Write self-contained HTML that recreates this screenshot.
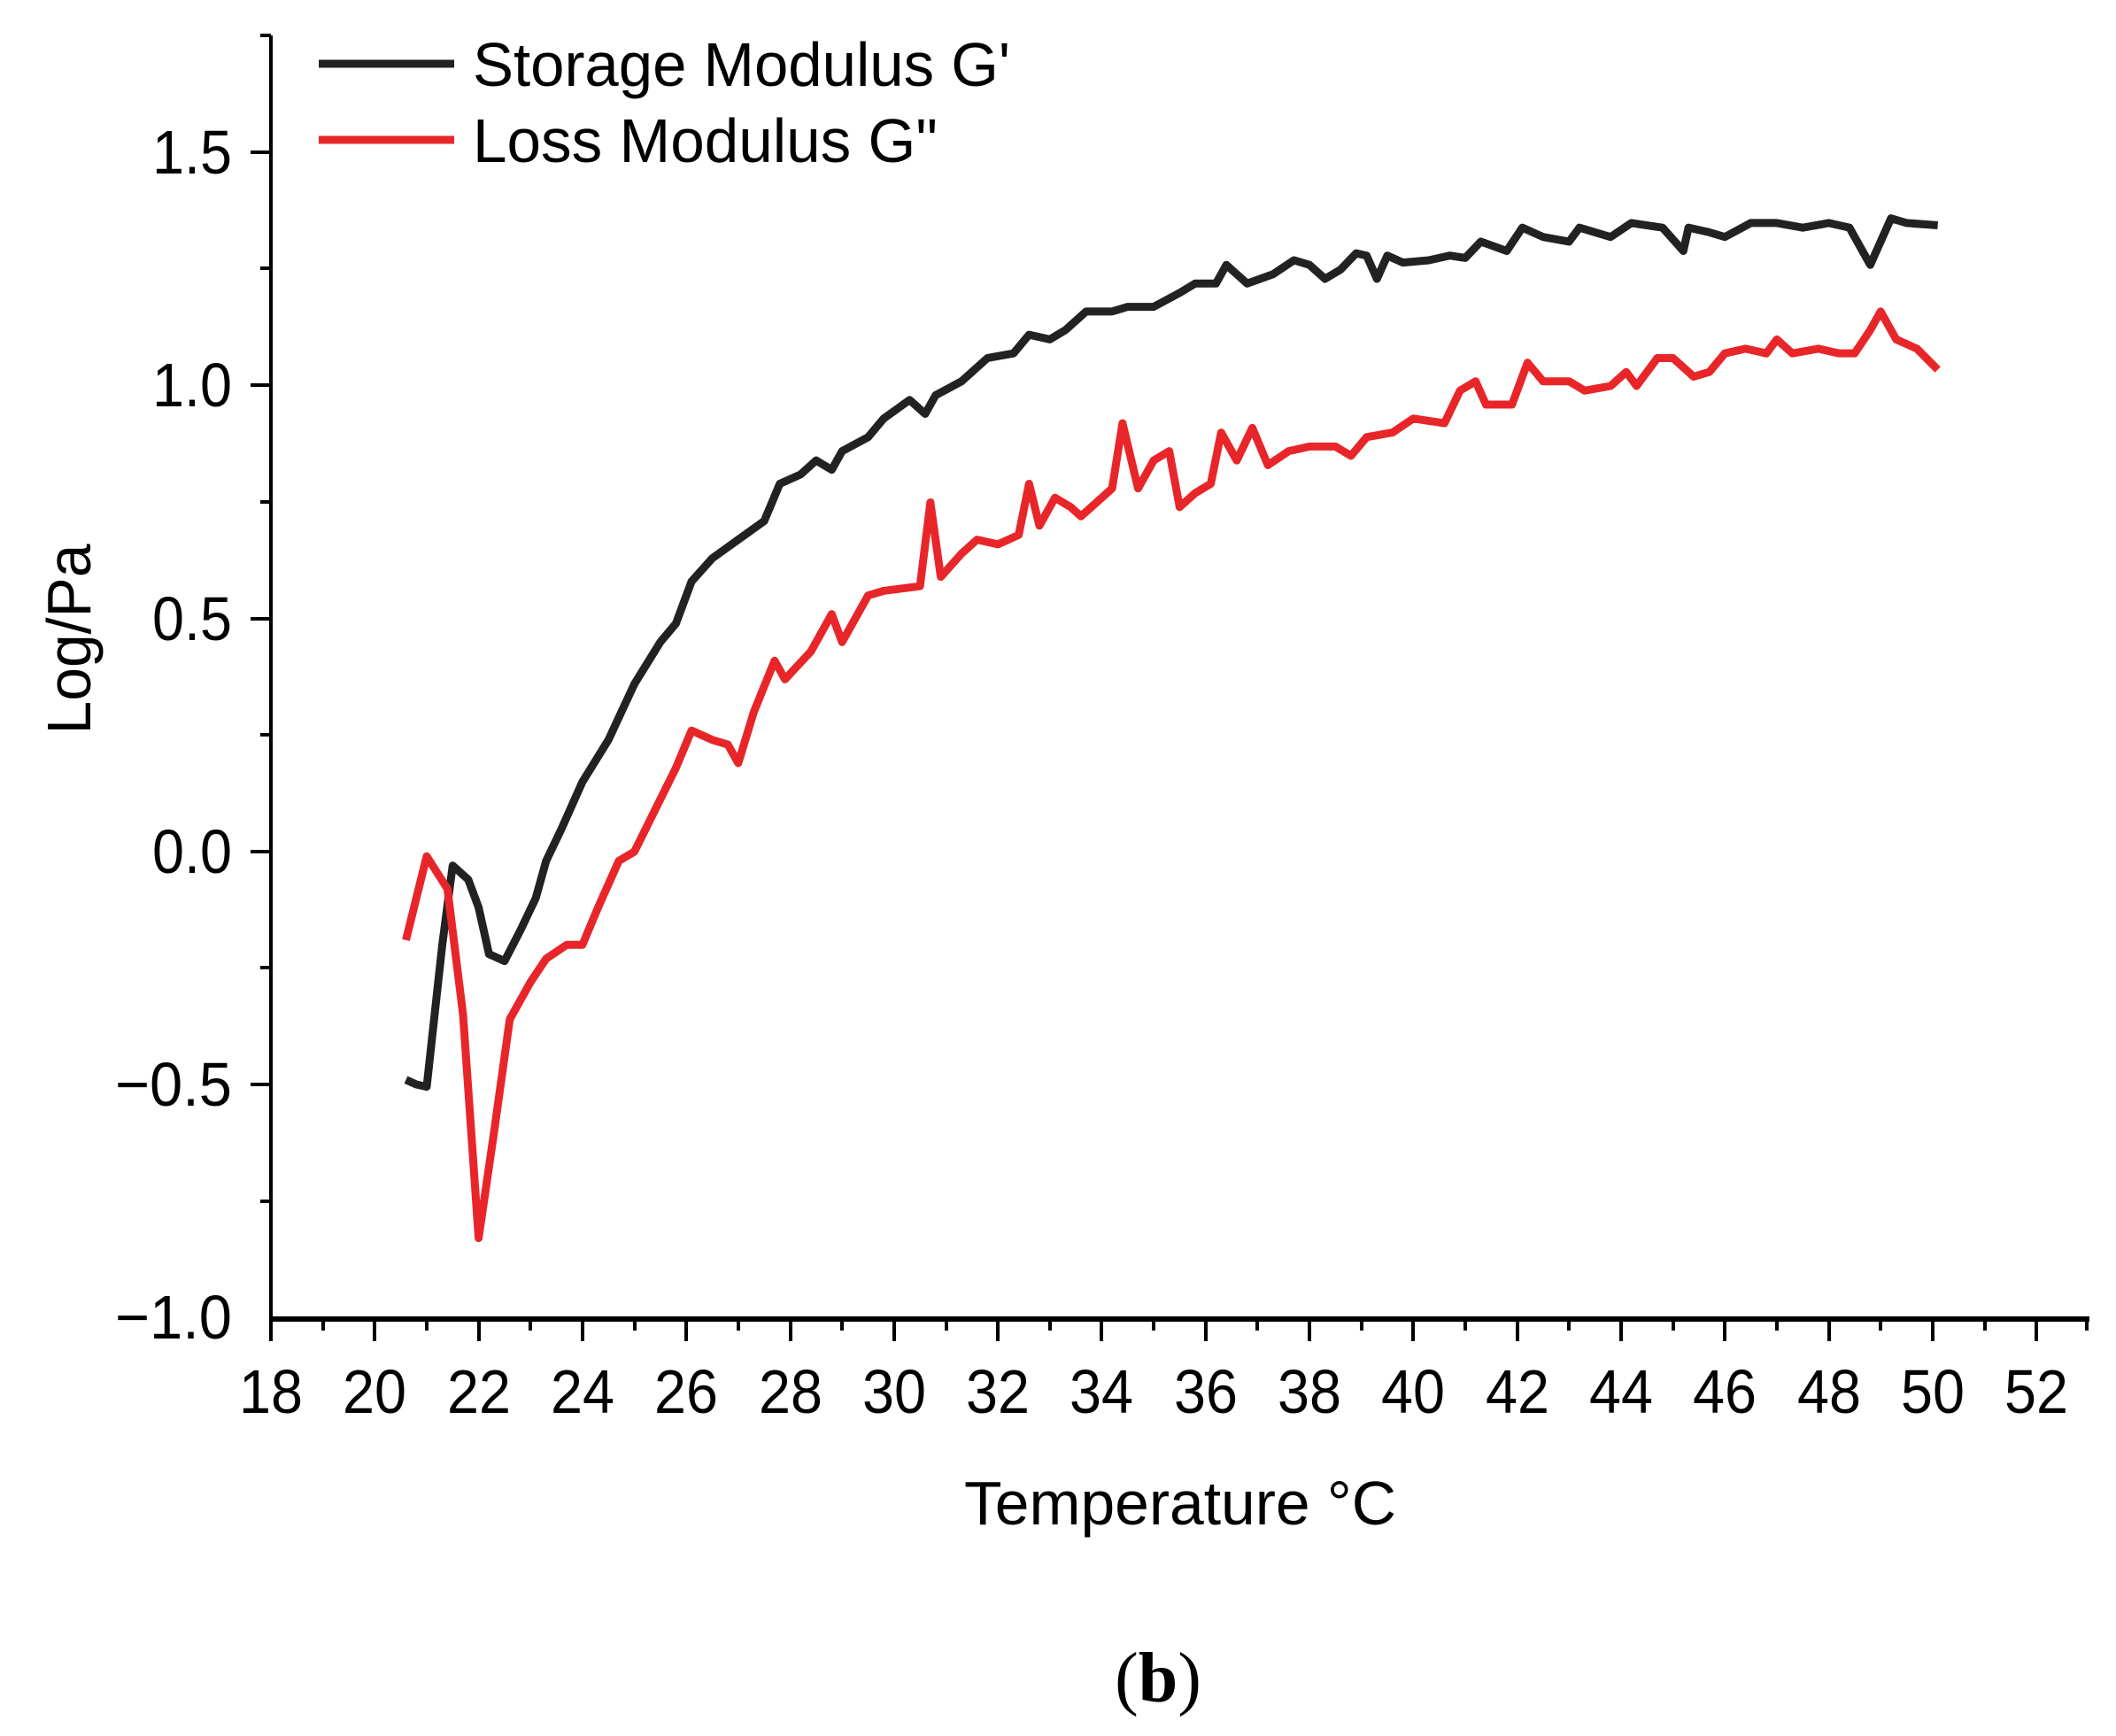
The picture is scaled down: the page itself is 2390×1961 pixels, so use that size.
<!DOCTYPE html>
<html><head><meta charset="utf-8"><style>html,body{margin:0;padding:0;background:#fff}svg{display:block}</style></head>
<body>
<svg width="2390" height="1961" viewBox="0 0 2390 1961" xmlns="http://www.w3.org/2000/svg" font-family="Liberation Sans, Arial, sans-serif">
<rect width="2390" height="1961" fill="#fff"/>
<line x1="306" y1="40" x2="306" y2="1492" stroke="#000" stroke-width="4"/>
<line x1="304" y1="1490" x2="2360" y2="1490" stroke="#000" stroke-width="6"/>
<g stroke="#000" stroke-width="4">
<line x1="283" y1="172" x2="306" y2="172"/><line x1="283" y1="435" x2="306" y2="435"/><line x1="283" y1="699" x2="306" y2="699"/><line x1="283" y1="962" x2="306" y2="962"/><line x1="283" y1="1225" x2="306" y2="1225"/>
<line x1="294" y1="40" x2="306" y2="40"/><line x1="294" y1="303" x2="306" y2="303"/><line x1="294" y1="567" x2="306" y2="567"/><line x1="294" y1="830" x2="306" y2="830"/><line x1="294" y1="1093" x2="306" y2="1093"/><line x1="294" y1="1357" x2="306" y2="1357"/>
</g>
<g font-size="70" text-anchor="end" fill="#000">
<text x="262" y="196" textLength="90" lengthAdjust="spacingAndGlyphs">1.5</text><text x="262" y="459" textLength="90" lengthAdjust="spacingAndGlyphs">1.0</text><text x="262" y="723" textLength="90" lengthAdjust="spacingAndGlyphs">0.5</text><text x="262" y="986" textLength="90" lengthAdjust="spacingAndGlyphs">0.0</text><text x="262" y="1249" textLength="132" lengthAdjust="spacingAndGlyphs">−0.5</text><text x="262" y="1512" textLength="132" lengthAdjust="spacingAndGlyphs">−1.0</text>
</g>
<g stroke="#000" stroke-width="4">
<line x1="306" y1="1490" x2="306" y2="1515"/><line x1="365" y1="1490" x2="365" y2="1503"/>
<line x1="423" y1="1490" x2="423" y2="1515"/><line x1="482" y1="1490" x2="482" y2="1503"/>
<line x1="541" y1="1490" x2="541" y2="1515"/><line x1="599" y1="1490" x2="599" y2="1503"/>
<line x1="658" y1="1490" x2="658" y2="1515"/><line x1="717" y1="1490" x2="717" y2="1503"/>
<line x1="775" y1="1490" x2="775" y2="1515"/><line x1="834" y1="1490" x2="834" y2="1503"/>
<line x1="893" y1="1490" x2="893" y2="1515"/><line x1="951" y1="1490" x2="951" y2="1503"/>
<line x1="1010" y1="1490" x2="1010" y2="1515"/><line x1="1069" y1="1490" x2="1069" y2="1503"/>
<line x1="1127" y1="1490" x2="1127" y2="1515"/><line x1="1186" y1="1490" x2="1186" y2="1503"/>
<line x1="1244" y1="1490" x2="1244" y2="1515"/><line x1="1303" y1="1490" x2="1303" y2="1503"/>
<line x1="1362" y1="1490" x2="1362" y2="1515"/><line x1="1420" y1="1490" x2="1420" y2="1503"/>
<line x1="1479" y1="1490" x2="1479" y2="1515"/><line x1="1538" y1="1490" x2="1538" y2="1503"/>
<line x1="1596" y1="1490" x2="1596" y2="1515"/><line x1="1655" y1="1490" x2="1655" y2="1503"/>
<line x1="1714" y1="1490" x2="1714" y2="1515"/><line x1="1772" y1="1490" x2="1772" y2="1503"/>
<line x1="1831" y1="1490" x2="1831" y2="1515"/><line x1="1890" y1="1490" x2="1890" y2="1503"/>
<line x1="1948" y1="1490" x2="1948" y2="1515"/><line x1="2007" y1="1490" x2="2007" y2="1503"/>
<line x1="2066" y1="1490" x2="2066" y2="1515"/><line x1="2124" y1="1490" x2="2124" y2="1503"/>
<line x1="2183" y1="1490" x2="2183" y2="1515"/><line x1="2242" y1="1490" x2="2242" y2="1503"/>
<line x1="2300" y1="1490" x2="2300" y2="1515"/><line x1="2357" y1="1490" x2="2357" y2="1503"/>
</g>
<g font-size="70" text-anchor="middle" fill="#000">
<text x="306" y="1596" textLength="72" lengthAdjust="spacingAndGlyphs">18</text><text x="423" y="1596" textLength="72" lengthAdjust="spacingAndGlyphs">20</text><text x="541" y="1596" textLength="72" lengthAdjust="spacingAndGlyphs">22</text><text x="658" y="1596" textLength="72" lengthAdjust="spacingAndGlyphs">24</text><text x="775" y="1596" textLength="72" lengthAdjust="spacingAndGlyphs">26</text><text x="893" y="1596" textLength="72" lengthAdjust="spacingAndGlyphs">28</text><text x="1010" y="1596" textLength="72" lengthAdjust="spacingAndGlyphs">30</text><text x="1127" y="1596" textLength="72" lengthAdjust="spacingAndGlyphs">32</text><text x="1244" y="1596" textLength="72" lengthAdjust="spacingAndGlyphs">34</text><text x="1362" y="1596" textLength="72" lengthAdjust="spacingAndGlyphs">36</text><text x="1479" y="1596" textLength="72" lengthAdjust="spacingAndGlyphs">38</text><text x="1596" y="1596" textLength="72" lengthAdjust="spacingAndGlyphs">40</text><text x="1714" y="1596" textLength="72" lengthAdjust="spacingAndGlyphs">42</text><text x="1831" y="1596" textLength="72" lengthAdjust="spacingAndGlyphs">44</text><text x="1948" y="1596" textLength="72" lengthAdjust="spacingAndGlyphs">46</text><text x="2066" y="1596" textLength="72" lengthAdjust="spacingAndGlyphs">48</text><text x="2183" y="1596" textLength="72" lengthAdjust="spacingAndGlyphs">50</text><text x="2300" y="1596" textLength="72" lengthAdjust="spacingAndGlyphs">52</text>
</g>
<text x="1333" y="1722" font-size="70" text-anchor="middle" textLength="488" lengthAdjust="spacingAndGlyphs">Temperature °C</text>
<text transform="translate(102,722) rotate(-90)" font-size="70" text-anchor="middle" textLength="215" lengthAdjust="spacingAndGlyphs">Log/Pa</text>
<text x="1308" y="1922" font-size="80" text-anchor="middle" font-family="Liberation Serif, serif">(<tspan font-weight="bold">b</tspan>)</text>
<line x1="360" y1="72" x2="513" y2="72" stroke="#222" stroke-width="9"/>
<line x1="360" y1="158" x2="513" y2="158" stroke="#e8262a" stroke-width="9"/>
<text x="534" y="97" font-size="70" textLength="607" lengthAdjust="spacingAndGlyphs">Storage Modulus G'</text>
<text x="534" y="183" font-size="70" textLength="525" lengthAdjust="spacingAndGlyphs">Loss Modulus G"</text>
<g transform="translate(306,962) scale(58.65,-526) translate(-18,0)" fill="none" stroke-linejoin="round">
<polyline vector-effect="non-scaling-stroke" stroke="#222" stroke-width="9" points="20.6,-0.49 20.8,-0.5 21.0,-0.505 21.3,-0.2 21.5,-0.03 21.8,-0.06 22.0,-0.12 22.2,-0.22 22.5,-0.235 22.8,-0.17 23.1,-0.1 23.3,-0.02 23.6,0.05 24.0,0.15 24.5,0.24 25.0,0.36 25.5,0.45 25.8,0.49 26.1,0.58 26.5,0.63 27.0,0.67 27.5,0.71 27.8,0.79 28.2,0.81 28.5,0.84 28.8,0.82 29.0,0.86 29.5,0.89 29.8,0.93 30.3,0.97 30.6,0.94 30.8,0.98 31.3,1.01 31.8,1.06 32.3,1.07 32.6,1.11 33.0,1.1 33.3,1.12 33.7,1.16 34.2,1.16 34.5,1.17 35.0,1.17 35.5,1.2 35.8,1.22 36.2,1.22 36.4,1.26 36.8,1.22 37.3,1.24 37.7,1.27 38.0,1.26 38.3,1.23 38.6,1.25 38.9,1.285 39.1,1.28 39.3,1.23 39.5,1.28 39.8,1.265 40.3,1.27 40.7,1.28 41.0,1.275 41.3,1.31 41.8,1.29 42.1,1.34 42.5,1.32 43.0,1.31 43.2,1.34 43.8,1.32 44.2,1.35 44.8,1.34 45.2,1.29 45.3,1.34 45.7,1.33 46.0,1.32 46.5,1.35 47.0,1.35 47.5,1.34 48.0,1.35 48.4,1.34 48.8,1.26 49.2,1.36 49.5,1.35 50.1,1.345"/>
<polyline vector-effect="non-scaling-stroke" stroke="#e8262a" stroke-width="9" points="20.6,-0.19 21.0,-0.01 21.4,-0.08 21.7,-0.35 22.0,-0.83 22.3,-0.6 22.6,-0.36 23.0,-0.28 23.3,-0.23 23.7,-0.2 24.0,-0.2 24.3,-0.12 24.7,-0.02 25.0,0.0 25.4,0.09 25.8,0.18 26.1,0.26 26.5,0.24 26.8,0.23 27.0,0.19 27.3,0.3 27.7,0.41 27.9,0.37 28.4,0.43 28.8,0.51 29.0,0.45 29.5,0.55 29.8,0.56 30.5,0.57 30.7,0.75 30.9,0.59 31.3,0.64 31.6,0.67 32.0,0.66 32.4,0.68 32.6,0.79 32.8,0.7 33.1,0.76 33.4,0.74 33.6,0.72 33.9,0.75 34.2,0.78 34.4,0.92 34.7,0.78 35.0,0.84 35.3,0.86 35.5,0.74 35.8,0.77 36.1,0.79 36.3,0.9 36.6,0.84 36.9,0.91 37.2,0.83 37.6,0.86 38.0,0.87 38.5,0.87 38.8,0.85 39.1,0.89 39.6,0.9 40.0,0.93 40.6,0.92 40.9,0.99 41.2,1.01 41.4,0.96 41.9,0.96 42.2,1.05 42.5,1.01 43.0,1.01 43.3,0.99 43.8,1.0 44.1,1.03 44.3,1.0 44.7,1.06 45.0,1.06 45.4,1.02 45.7,1.03 46.0,1.07 46.4,1.08 46.8,1.07 47.0,1.1 47.3,1.07 47.8,1.08 48.2,1.07 48.5,1.07 48.8,1.12 49.0,1.16 49.3,1.1 49.7,1.08 50.1,1.035"/>
</g>
</svg>
</body></html>
